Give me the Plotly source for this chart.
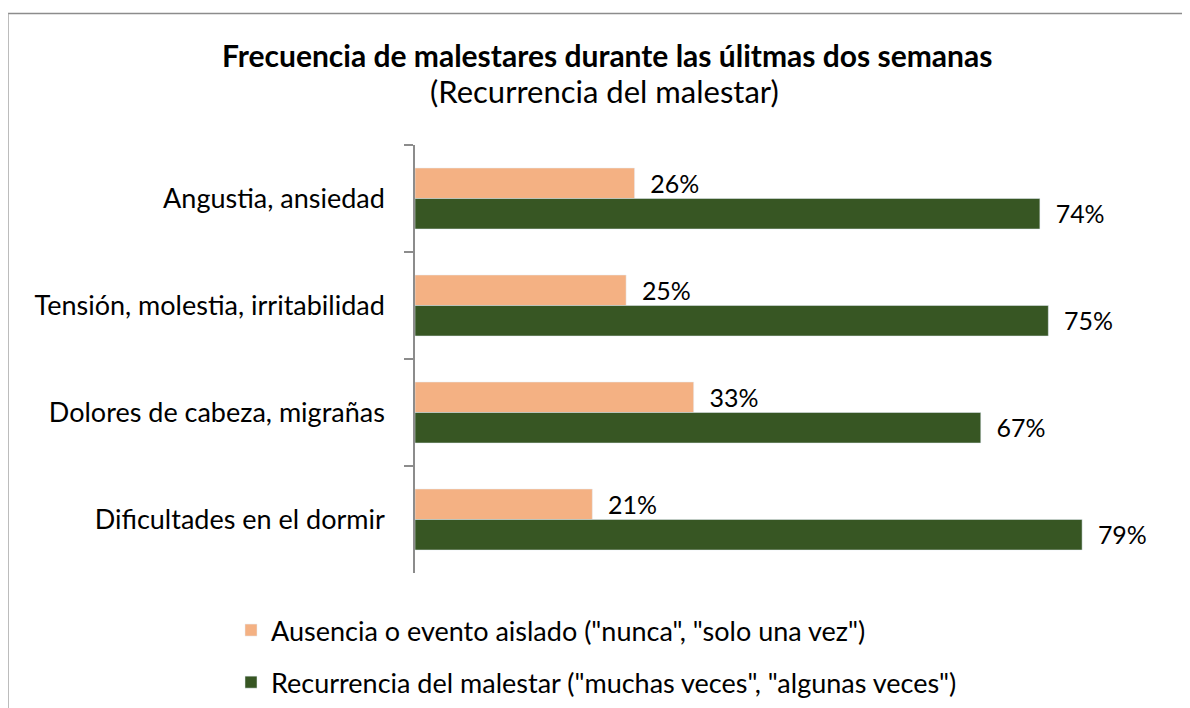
import plotly.graph_objects as go

# datos
categorias = ['Angustia, ansiedad', 'Tensión, molestia, irritabilidad',
              'Dolores de cabeza, migrañas', 'Dificultades en el dormir']
ausencia = [26, 25, 33, 21]
recurrencia = [74, 75, 67, 79]

serie_ausencia = 'Ausencia o evento aislado ("nunca", "solo una vez")'
serie_recurrencia = 'Recurrencia del malestar ("muchas veces", "algunas veces")'

fuente = 'Lato'

fig = go.Figure()
fig.add_trace(go.Bar(y=categorias, x=ausencia, orientation='h', name=serie_ausencia,
                     marker_color='#F4B183', legendgroup='a',
                     text=['  ' + str(v) + '%' for v in ausencia], textposition='outside',
                     textfont=dict(size=27, color='black', family=fuente), cliponaxis=False))
fig.add_trace(go.Bar(y=categorias, x=recurrencia, orientation='h', name=serie_recurrencia,
                     marker_color='#375623', legendgroup='b',
                     text=['  ' + str(v) + '%' for v in recurrencia], textposition='outside',
                     textfont=dict(size=27, color='black', family=fuente), cliponaxis=False))

# la pagina tiene 8px de margen, por eso la figura mide 1182x700
fig.update_layout(
    width=1182, height=700,
    margin=dict(l=407, r=15, t=137, b=135),
    paper_bgcolor='white', plot_bgcolor='white',
    barmode='group', bargap=0.43, bargroupgap=0,
    font=dict(family=fuente, size=27, color='black'),
    showlegend=True,
    legend=dict(x=(231 - 415) / 760, xanchor='left', yref='container',
                y=1 - 598 / 700, yanchor='top',
                font=dict(size=27, family=fuente), tracegroupgap=14,
                itemwidth=30),
)
fig.update_xaxes(range=[0, 90], visible=False, showgrid=False)
fig.update_yaxes(autorange='reversed', showline=True, linecolor='#8c8c8c', linewidth=1.5,
                 ticks='outside', tickson='boundaries', ticklen=9, tickcolor='#8c8c8c',
                 tickwidth=1.5, ticklabelstandoff=23, showgrid=False,
                 tickfont=dict(size=27, family=fuente))

fig.add_annotation(text='<b>Frecuencia de malestares durante las úlitmas dos semanas</b>',
                   xref='paper', yref='paper', x=(607 - 415) / 760, y=(573 - 55) / 428,
                   xanchor='center', yanchor='middle',
                   showarrow=False, font=dict(size=30, family=fuente))
fig.add_annotation(text='(Recurrencia del malestar)',
                   xref='paper', yref='paper', x=(604 - 415) / 760, y=(573 - 91) / 428,
                   xanchor='center', yanchor='middle',
                   showarrow=False, font=dict(size=31, family=fuente))

# marco del grafico (solo se ven el borde superior y el izquierdo)
fig.add_shape(type='line', xref='paper', yref='paper',
              x0=(8 - 415) / 760, x1=(1200 - 415) / 760,
              y0=(573 - 13.5) / 428, y1=(573 - 13.5) / 428,
              line=dict(color='#8c8c8c', width=1.5))
fig.add_shape(type='line', xref='paper', yref='paper',
              x0=(8 - 415) / 760, x1=(8 - 415) / 760,
              y0=(573 - 13.5) / 428, y1=(573 - 720) / 428,
              line=dict(color='#a6a6a6', width=1.5))

fig.write_html('out.html')
